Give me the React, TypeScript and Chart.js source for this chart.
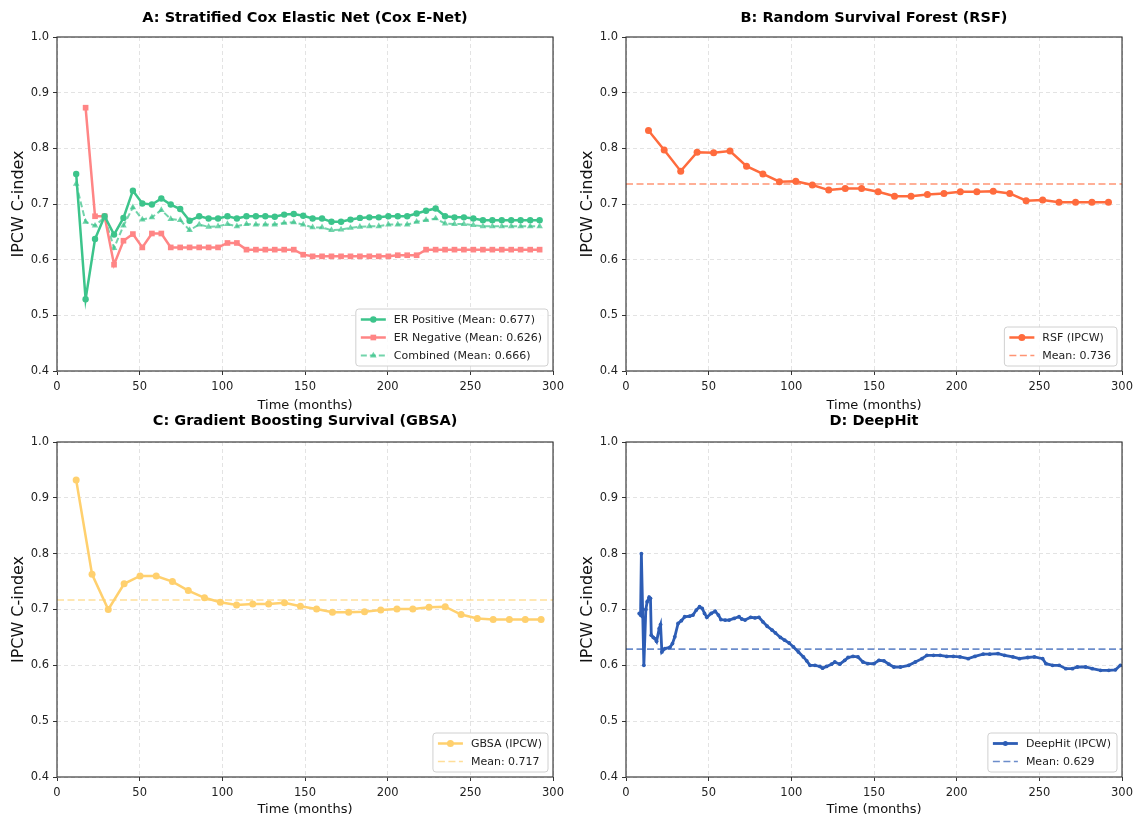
import React, { useEffect, useRef } from 'react';
import { Chart, registerables } from 'chart.js';

Chart.register(...registerables);

const FONT = '"DejaVu Sans", "Liberation Sans", sans-serif';
Chart.defaults.font.family = FONT;

// ---------- Axis settings ----------
const X_MIN = 0;
const X_MAX = 300;
const X_STEP = 50;
const Y_MIN = 0.4;
const Y_MAX = 1.0;
const Y_STEP = 0.1;

// ---------- Panel A: Cox E-Net ----------
const coxTimes = [
  11.6, 17.3, 23.0, 28.8, 34.5, 40.2, 45.9, 51.6, 57.4, 63.1,
  68.8, 74.5, 80.2, 86.0, 91.7, 97.4, 103.1, 108.8, 114.6, 120.3,
  126.0, 131.7, 137.4, 143.2, 148.9, 154.6, 160.3, 166.0, 171.8, 177.5,
  183.2, 188.9, 194.6, 200.4, 206.1, 211.8, 217.5, 223.2, 229.0, 234.7,
  240.4, 246.1, 251.8, 257.6, 263.3, 269.0, 274.7, 280.4, 286.2, 291.9,
];
const coxErPositive = [
  0.754, 0.529, 0.637, 0.678, 0.645, 0.675, 0.724, 0.701, 0.699, 0.710,
  0.699, 0.691, 0.670, 0.678, 0.674, 0.674, 0.678, 0.674, 0.678, 0.678,
  0.678, 0.677, 0.681, 0.682, 0.679, 0.674, 0.674, 0.668, 0.668, 0.672,
  0.675, 0.676, 0.676, 0.678, 0.678, 0.678, 0.683, 0.688, 0.692, 0.678,
  0.676, 0.676, 0.674, 0.671, 0.671, 0.671, 0.671, 0.671, 0.671, 0.671,
];
const coxErNegative = [
  null, 0.873, 0.678, 0.678, 0.591, 0.634, 0.646, 0.622, 0.647, 0.647,
  0.622, 0.622, 0.622, 0.622, 0.622, 0.622, 0.630, 0.630, 0.618, 0.618,
  0.618, 0.618, 0.618, 0.618, 0.609, 0.606, 0.606, 0.606, 0.606, 0.606,
  0.606, 0.606, 0.606, 0.606, 0.608, 0.608, 0.608, 0.618, 0.618, 0.618,
  0.618, 0.618, 0.618, 0.618, 0.618, 0.618, 0.618, 0.618, 0.618, 0.618,
];
const coxCombined = [
  0.736, 0.668, 0.661, 0.676, 0.621, 0.661, 0.694, 0.672, 0.676, 0.689,
  0.673, 0.671, 0.653, 0.663, 0.659, 0.660, 0.664, 0.660, 0.664, 0.663,
  0.663, 0.663, 0.666, 0.667, 0.663, 0.658, 0.658, 0.653, 0.654, 0.657,
  0.659, 0.660, 0.660, 0.663, 0.663, 0.663, 0.668, 0.671, 0.674, 0.665,
  0.664, 0.664, 0.662, 0.660, 0.660, 0.660, 0.660, 0.660, 0.660, 0.660,
];
const coxMeans = { pos: 0.677, neg: 0.626, comb: 0.666 };

// ---------- Panel B: RSF ----------
const rsfTimes = [
  13.6, 23.1, 33.1, 43.0, 53.0, 62.9, 72.9, 82.8, 92.8, 102.7,
  112.7, 122.6, 132.6, 142.5, 152.5, 162.4, 172.4, 182.3, 192.3, 202.2,
  212.2, 222.1, 232.1, 242.0, 252.0, 261.9, 271.9, 281.8, 291.8,
];
const rsfValues = [
  0.832, 0.797, 0.759, 0.793, 0.792, 0.795, 0.768, 0.754, 0.740, 0.741,
  0.734, 0.725, 0.728, 0.728, 0.722, 0.714, 0.714, 0.717, 0.719, 0.722,
  0.722, 0.723, 0.719, 0.706, 0.707, 0.703, 0.703, 0.703, 0.703,
];
const rsfMean = 0.736;

// ---------- Panel C: GBSA ----------
const gbsaTimes = [
  11.6, 21.2, 31.0, 40.6, 50.2, 60.0, 69.8, 79.4, 89.2, 98.8,
  108.6, 118.4, 128.0, 137.6, 147.2, 157.0, 166.6, 176.4, 186.0, 195.8,
  205.6, 215.2, 225.0, 234.8, 244.4, 254.2, 263.8, 273.6, 283.2, 292.8,
];
const gbsaValues = [
  0.932, 0.763, 0.700, 0.746, 0.760, 0.760, 0.750, 0.734, 0.721, 0.713,
  0.708, 0.710, 0.710, 0.712, 0.706, 0.701, 0.695, 0.695, 0.696, 0.699,
  0.701, 0.701, 0.704, 0.705, 0.691, 0.684, 0.682, 0.682, 0.682, 0.682,
];
const gbsaMean = 0.717;

// ---------- Panel D: DeepHit ----------
const dhTimes = [
  8.0, 8.8, 9.3, 10.8, 12.0, 12.8, 14.0, 14.8, 15.3, 16.5,
  17.5, 18.5, 20.1, 20.9, 21.7, 23.5, 26.5, 28.1, 29.5, 31.5,
  33.5, 35.5, 38.5, 40.5, 42.5, 44.5, 46.1, 47.5, 48.9, 51.5,
  53.9, 55.9, 57.4, 60.0, 62.4, 65.4, 68.4, 70.0, 72.0, 75.4,
  78.0, 80.4, 82.8, 85.4, 88.4, 90.4, 93.4, 96.0, 98.7, 101.3,
  104.3, 107.3, 109.3, 111.3, 114.3, 117.3, 118.9, 121.3, 124.3, 126.3,
  129.3, 132.3, 134.3, 137.3, 140.3, 143.3, 146.3, 150, 153, 156,
  159, 162, 166, 171, 175, 179, 182, 186, 190, 194,
  198, 202, 207, 211, 216, 220, 225, 229, 234, 238,
  243, 247, 252, 254, 258, 262, 266, 270, 273, 278,
  282, 287, 292, 296, 299,
];
const dhValues = [
  0.693, 0.690, 0.800, 0.600, 0.700, 0.714, 0.722, 0.720, 0.654, 0.650,
  0.648, 0.643, 0.666, 0.673, 0.624, 0.630, 0.632, 0.639, 0.651, 0.675,
  0.680, 0.687, 0.688, 0.690, 0.699, 0.705, 0.702, 0.693, 0.686, 0.693,
  0.697, 0.690, 0.682, 0.681, 0.681, 0.684, 0.687, 0.683, 0.681, 0.686,
  0.685, 0.686, 0.678, 0.670, 0.663, 0.658, 0.650, 0.645, 0.640, 0.633,
  0.624, 0.615, 0.608, 0.600, 0.600, 0.598, 0.595, 0.598, 0.602, 0.606,
  0.602, 0.609, 0.614, 0.616, 0.615, 0.606, 0.603, 0.603, 0.609, 0.608,
  0.602, 0.597, 0.597, 0.600, 0.606, 0.612, 0.618, 0.618, 0.618, 0.616,
  0.616, 0.615, 0.612, 0.616, 0.620, 0.620, 0.621, 0.618, 0.615, 0.612,
  0.614, 0.615, 0.612, 0.603, 0.600, 0.600, 0.594, 0.594, 0.597, 0.597,
  0.594, 0.591, 0.591, 0.592, 0.600,
];
const dhMean = 0.629;

// ---------- Colors ----------
const C_POS = '#3cc48b';
const C_NEG = '#ff8585';
const C_COMB = 'rgba(60,196,139,0.72)';
const C_RSF = '#ff6b3d';
const C_RSF_MEAN = 'rgba(255,107,61,0.72)';
const C_GBSA = '#ffd06e';
const C_GBSA_MEAN = 'rgba(255,208,110,0.7)';
const C_DH = '#2d5db5';
const C_DH_MEAN = 'rgba(45,93,181,0.7)';

// ---------- helpers ----------
const pts = (xs: number[], ys: (number | null)[]) =>
  xs.map((x, i) => ({ x, y: ys[i] })).filter((p) => p.y !== null);
const meanLine = (m: number) => [
  { x: X_MIN, y: m },
  { x: X_MAX, y: m },
];

function drawMarker(ctx: CanvasRenderingContext2D, style: string, x: number, y: number, r: number, color: string) {
  ctx.save();
  ctx.setLineDash([]);
  ctx.fillStyle = color;
  ctx.beginPath();
  if (style === 'rect') {
    const s = r * Math.SQRT1_2;
    ctx.rect(x - s, y - s, 2 * s, 2 * s);
  } else if (style === 'triangle') {
    ctx.moveTo(x, y - r);
    ctx.lineTo(x + r * 0.866, y + r * 0.5);
    ctx.lineTo(x - r * 0.866, y + r * 0.5);
    ctx.closePath();
  } else {
    ctx.arc(x, y, r, 0, Math.PI * 2);
  }
  ctx.fill();
  ctx.restore();
}

const decorPlugin = {
  id: 'decor',
  afterDraw(chart: any, _args: any, opts: any) {
    const { ctx, chartArea: ca } = chart;
    ctx.save();
    // frame
    ctx.setLineDash([]);
    ctx.strokeStyle = '#2b2b2b';
    ctx.lineWidth = 1.1;
    ctx.strokeRect(ca.left, ca.top, ca.right - ca.left, ca.bottom - ca.top);
    // title
    ctx.fillStyle = '#000';
    ctx.font = `bold 14.5px ${FONT}`;
    ctx.textAlign = 'center';
    ctx.textBaseline = 'middle';
    ctx.fillText(opts.title, (ca.left + ca.right) / 2, opts.titleY);
    // legend
    const items = chart.data.datasets.filter((d: any) => d.label);
    ctx.font = `11px ${FONT}`;
    let tw = 0;
    items.forEach((d: any) => {
      tw = Math.max(tw, ctx.measureText(d.label).width);
    });
    const padL = 5, handle = 25, gap = 8, padR = 6, rowH = 18;
    const bw = padL + handle + gap + tw + padR;
    const bh = items.length * rowH + 3;
    const bx = ca.right - 5 - bw;
    const by = ca.bottom - 5 - bh;
    ctx.beginPath();
    ctx.roundRect(bx, by, bw, bh, 3);
    ctx.fillStyle = 'rgba(255,255,255,0.85)';
    ctx.fill();
    ctx.strokeStyle = '#d0d0d0';
    ctx.lineWidth = 1;
    ctx.stroke();
    items.forEach((d: any, i: number) => {
      const cy = by + 1.5 + rowH * i + rowH / 2;
      const x0 = bx + padL;
      ctx.save();
      ctx.strokeStyle = d.borderColor;
      ctx.lineWidth = d.borderWidth;
      ctx.setLineDash(d.borderDash || []);
      ctx.beginPath();
      ctx.moveTo(x0, cy);
      ctx.lineTo(x0 + handle, cy);
      ctx.stroke();
      ctx.restore();
      if (d.pointRadius > 0) {
        drawMarker(ctx, d.pointStyle, x0 + handle / 2, cy, Math.max(d.pointRadius, 2.5), d.pointBackgroundColor);
      }
      ctx.fillStyle = '#222';
      ctx.textAlign = 'left';
      ctx.textBaseline = 'middle';
      ctx.fillText(d.label, x0 + handle + gap, cy + 0.5);
    });
    ctx.restore();
  },
};

type PanelSpec = {
  key: string;
  title: string;
  left: number;
  top: number;
  w: number;
  h: number;
  padTop: number;
  xAxisH: number;
  xTitlePad: number;
  titleY: number;
  datasets: any[];
};

const lineDs = (label: string, data: any[], color: string, style: string, r: number, width: number, dash?: number[]) => ({
  label,
  data,
  borderColor: color,
  backgroundColor: color,
  pointBackgroundColor: color,
  pointBorderColor: color,
  pointBorderWidth: 0,
  borderWidth: width,
  borderDash: dash || [],
  pointStyle: style,
  pointRadius: r,
  tension: 0,
  fill: false,
});

const PANELS: PanelSpec[] = [
  {
    key: 'A',
    title: 'A: Stratified Cox Elastic Net (Cox E-Net)',
    left: 0, top: 0, w: 569, h: 414, padTop: 37, xAxisH: 43, xTitlePad: 1, titleY: 18,
    datasets: [
      lineDs(`ER Positive (Mean: ${coxMeans.pos.toFixed(3)})`, pts(coxTimes, coxErPositive), C_POS, 'circle', 3.2, 2.5),
      lineDs(`ER Negative (Mean: ${coxMeans.neg.toFixed(3)})`, pts(coxTimes, coxErNegative), C_NEG, 'rect', 4, 2.5),
      lineDs(`Combined (Mean: ${coxMeans.comb.toFixed(3)})`, pts(coxTimes, coxCombined), C_COMB, 'triangle', 3.8, 2, [6, 3]),
    ],
  },
  {
    key: 'B',
    title: 'B: Random Survival Forest (RSF)',
    left: 569, top: 0, w: 569, h: 414, padTop: 37, xAxisH: 43, xTitlePad: 1, titleY: 18,
    datasets: [
      lineDs('RSF (IPCW)', pts(rsfTimes, rsfValues), C_RSF, 'circle', 3.5, 2.5),
      lineDs(`Mean: ${rsfMean.toFixed(3)}`, meanLine(rsfMean), C_RSF_MEAN, 'circle', 0, 1.6, [7, 3.5]),
    ],
  },
  {
    key: 'C',
    title: 'C: Gradient Boosting Survival (GBSA)',
    left: 0, top: 405, w: 569, h: 409, padTop: 37, xAxisH: 37, xTitlePad: -3, titleY: 16,
    datasets: [
      lineDs('GBSA (IPCW)', pts(gbsaTimes, gbsaValues), C_GBSA, 'circle', 3.5, 2.5),
      lineDs(`Mean: ${gbsaMean.toFixed(3)}`, meanLine(gbsaMean), C_GBSA_MEAN, 'circle', 0, 1.6, [7, 3.5]),
    ],
  },
  {
    key: 'D',
    title: 'D: DeepHit',
    left: 569, top: 405, w: 569, h: 409, padTop: 37, xAxisH: 37, xTitlePad: -3, titleY: 16,
    datasets: [
      lineDs('DeepHit (IPCW)', pts(dhTimes, dhValues), C_DH, 'circle', 1.9, 2.8),
      lineDs(`Mean: ${dhMean.toFixed(3)}`, meanLine(dhMean), C_DH_MEAN, 'circle', 0, 1.6, [7, 3.5]),
    ],
  },
];

function buildConfig(p: PanelSpec): any {
  return {
    type: 'line',
    data: { datasets: p.datasets },
    options: {
      animation: false,
      responsive: false,
      devicePixelRatio: 1,
      layout: { padding: { left: 7, right: 11, top: p.padTop, bottom: 0 } },
      plugins: {
        legend: { display: false },
        title: { display: false },
        tooltip: { enabled: false },
        decor: { title: p.title, titleY: p.titleY },
      },
      scales: {
        x: {
          type: 'linear',
          min: X_MIN,
          max: X_MAX,
          afterFit: (s: any) => {
            s.height = p.xAxisH;
          },
          ticks: {
            stepSize: X_STEP,
            autoSkip: false,
            maxRotation: 0,
            padding: 5,
            color: '#222',
            font: { size: 11.5 },
            callback: (v: any) => String(v),
          },
          grid: { color: '#dcdcdc', lineWidth: 0.8, tickLength: 4, tickColor: '#333', tickWidth: 1 },
          border: { display: false, dash: [4, 3] },
          title: {
            display: true,
            text: 'Time (months)',
            color: '#111',
            font: { size: 13 },
            padding: { top: 0, bottom: p.xTitlePad },
          },
        },
        y: {
          type: 'linear',
          min: Y_MIN,
          max: Y_MAX,
          afterFit: (s: any) => {
            s.width = 50;
          },
          ticks: {
            stepSize: Y_STEP,
            padding: 4,
            color: '#222',
            font: { size: 11.5 },
            callback: (v: any) => Number(v).toFixed(1),
          },
          grid: { color: '#dcdcdc', lineWidth: 0.8, tickLength: 4, tickColor: '#333', tickWidth: 1 },
          border: { display: false, dash: [4, 3] },
          title: {
            display: true,
            text: 'IPCW C-index',
            color: '#111',
            font: { size: 16 },
            padding: { top: 2, bottom: 2 },
          },
        },
      },
    },
    plugins: [decorPlugin],
  };
}

function PanelChart({ panel }: { panel: PanelSpec }) {
  const ref = useRef<HTMLCanvasElement>(null);
  useEffect(() => {
    const chart = new Chart(ref.current as HTMLCanvasElement, buildConfig(panel));
    return () => chart.destroy();
  }, [panel]);
  return (
    <canvas
      ref={ref}
      width={panel.w}
      height={panel.h}
      style={{ position: 'absolute', left: panel.left, top: panel.top, width: panel.w, height: panel.h }}
    />
  );
}

export default function App() {
  return (
    <div
      style={{
        position: 'absolute',
        left: 0,
        top: 0,
        width: 1138,
        height: 814,
        background: '#ffffff',
        overflow: 'hidden',
      }}
    >
      {PANELS.map((p) => (
        <PanelChart key={p.key} panel={p} />
      ))}
    </div>
  );
}
